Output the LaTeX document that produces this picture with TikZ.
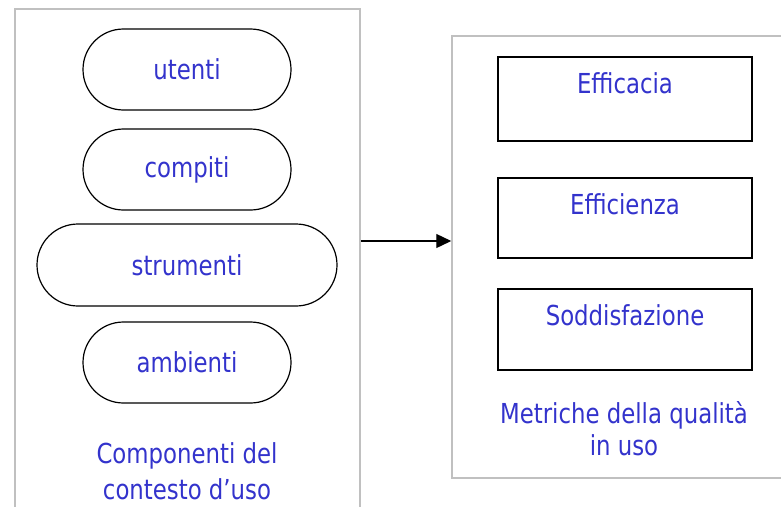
\documentclass[tikz,border=0pt]{standalone}
\usepackage{fontspec}
\setmainfont{DejaVu Sans}[FakeStretch=0.83]
\usetikzlibrary{arrows.meta,shapes.misc}

\definecolor{labelblue}{RGB}{51,51,204}
\definecolor{panelgray}{RGB}{192,192,192}

\begin{document}
\begin{tikzpicture}[
    >=Stealth,
    x=1pt, y=-1pt, % 像素坐标
    panel/.style={draw=panelgray, line width=1.5pt, rectangle, inner sep=0pt},
    oval/.style={draw, line width=1.2pt, rounded rectangle, minimum width=208pt,
        minimum height=81pt, inner sep=0pt, text=labelblue, font=\fontsize{27.5}{30}\selectfont},
    metricbox/.style={draw, line width=1.6pt, rectangle, minimum width=254pt, inner sep=0pt,
        text height=37pt, anchor=north, text=labelblue, font=\fontsize{27.5}{30}\selectfont},
    caption/.style={align=center, inner sep=0pt, anchor=base, text=labelblue}
]

\useasboundingbox (0,0) rectangle (781,506);
\clip (0,0) rectangle (781,506);

% ========== 左侧：使用情境组成 ==========
\begin{scope}
    \node[panel, minimum width=345pt, minimum height=531pt] (leftpanel) at (187.5,274.5) {}; % 下边超出画面

    \node[oval] (utenti) at (187,69.5) {utenti};
    \node[oval] (compiti) at (187,169.5) {compiti};
    \node[oval, minimum width=300pt, minimum height=82pt] (strumenti) at (187,265) {strumenti};
    \node[oval] (ambienti) at (187,362.5) {ambienti};

    % base = 最后一行基线
    \node[caption, font=\fontsize{27.5}{36}\selectfont] (componenti) at (187,499)
        {Componenti del\\contesto d’uso};
\end{scope}

% ========== 右侧：质量度量 ==========
\begin{scope}
    \node[panel, minimum width=348pt, minimum height=442pt] (rightpanel) at (626,257) {}; % 右边超出画面

    \node[metricbox, text depth=47pt] (efficacia) at (625,56) {Efficacia};
    \node[metricbox, text depth=43pt] (efficienza) at (625,177) {Efficienza};
    \node[metricbox, text depth=44pt] (soddisfazione) at (625,288) {Soddisfazione};

    \node[caption, font=\fontsize{27.5}{32}\selectfont] (metriche) at (624,455)
        {Metriche della qualità\\in uso};
\end{scope}

% 箭头
\coordinate (arrowlevel) at (0,241);
\draw[-{Triangle[length=15pt,width=14pt]}, line width=1.3pt]
    (leftpanel.east |- arrowlevel) -- (rightpanel.west |- arrowlevel);

\end{tikzpicture}
\end{document}
